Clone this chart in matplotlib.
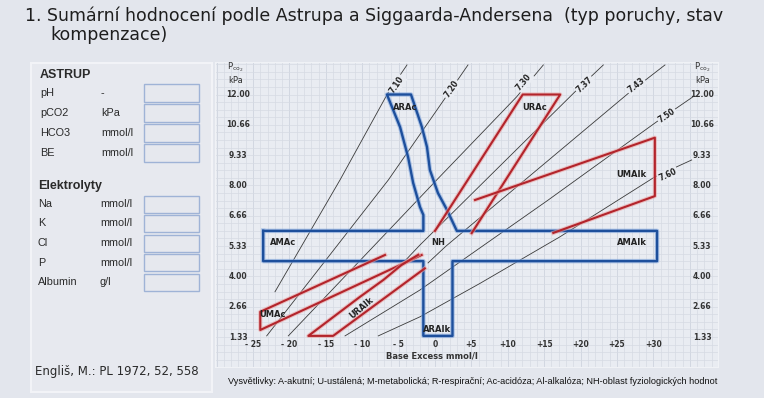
import matplotlib
matplotlib.use("Agg")
from matplotlib import pyplot as plt
from matplotlib import patheffects as pe
import numpy as np

W, H = 764, 398
BG = "#e3e6ed"
PANEL = "#e9ecf2"
GRID = "#d6dae3"
GRID2 = "#c9cfda"
BLUE = "#1d4f9c"
RED = "#b3242b"
INK = "#2a2a2a"

# axis ticks of the nomogram
pco2_ticks = [12.00, 10.66, 9.33, 8.00, 6.66, 5.33, 4.00, 2.66, 1.33]
pco2_labels = ["12.00", "10.66", "9.33", "8.00", "6.66", "5.33", "4.00", "2.66", "1.33"]
be_ticks = [-25, -20, -15, -10, -5, 0, 5, 10, 15, 20, 25, 30]
be_labels = ["- 25", "- 20", "- 15", "- 10", "- 5", "0", "+5", "+10", "+15", "+20", "+25", "+30"]

# iso-pH lines (BE, pCO2)
ph710_be = [-3.85, -6.46, -13.05, -21.98]
ph710_p = [13.30, 12.07, 8.24, 3.32]
ph720_be = [4.53, 1.37, -6.41, -23.12]
ph720_p = [13.30, 11.83, 8.24, 1.38]
ph730_be = [14.88, 11.22, 0.23, -20.15]
ph730_p = [13.30, 11.90, 8.24, 1.38]
ph737_be = [23.12, 19.23, -2.06, -4.40]
ph737_p = [13.30, 12.12, 5.38, 4.59]
ph743_be = [31.59, 26.55, 1.51, -0.96]
ph743_p = [13.30, 12.05, 5.33, 4.59]
ph750_be = [35.44, 30.45, 15.56, -2.06, -12.36]
ph750_p = [11.90, 10.80, 7.36, 3.40, 1.38]
ph760_be = [35.26, 30.22, 17.17, 6.18, -2.06, -7.79]
ph760_p = [9.12, 8.38, 5.74, 3.69, 2.22, 1.38]

ph_names = ["7.10", "7.20", "7.30", "7.37", "7.43", "7.50", "7.60"]
ph_label_be = [-5.22, 2.29, 12.23, 20.5, 27.6, 31.9, 32.0]
ph_label_p = [12.42, 12.23, 12.56, 12.45, 12.40, 11.05, 8.46]

# blue outline: AMAc / NH / AMAlk band with ARAc above and ARAlk below
blue_be = [-23.6, -1.6, -1.6, -2.06, -3.0, -3.7, -4.8, -6.6, -3.3, -1.8, -1.1,
           -0.7, 0.4, 1.65, 3.0, 30.5, 30.5, 2.4, 2.4, -1.6, -1.6, -23.6, -23.6]
blue_p = [6.0, 6.0, 6.70, 7.05, 8.11, 9.25, 10.57, 12.0, 12.0, 10.57, 9.69,
          8.68, 7.67, 6.92, 6.0, 6.0, 4.67, 4.67, 1.38, 1.38, 4.67, 4.67, 6.0]

# red zones
urac_be = [0.0, 12.05, 17.2, 5.04]
urac_p = [6.0, 12.0, 12.0, 5.9]
umalk_be = [5.5, 30.2, 30.2, 16.25]
umalk_p = [7.36, 10.1, 7.53, 5.91]
umac_be = [-6.87, -24.0, -24.0, -1.83]
umac_p = [4.94, 2.44, 1.64, 4.94]
uralk_be = [-1.4, -14.0, -17.4, -10.3, -7.1, -4.6, -2.3]
uralk_p = [4.35, 1.38, 1.38, 3.1, 3.84, 4.5, 4.95]

zone_names = ["ARAc", "URAc", "UMAlk", "AMAc", "NH", "AMAlk", "UMAc", "URAlk", "ARAlk"]
zone_be = [-4.1, 13.7, 27.0, -20.9, 0.4, 27.1, -22.3, -10.1, 0.3]
zone_p = [11.45, 11.45, 8.46, 5.5, 5.5, 5.47, 2.3, 2.59, 1.68]
zone_rot = [0, 0, 0, 0, 0, 0, 0, 40, 0]

astrup_rows = ["pH", "pCO2", "HCO3", "BE"]
astrup_units = ["-", "kPa", "mmol/l", "mmol/l"]
elyte_rows = ["Na", "K", "Cl", "P", "Albumin"]
elyte_units = ["mmol/l", "mmol/l", "mmol/l", "mmol/l", "g/l"]

fig = plt.figure(figsize=(W / 100, H / 100), dpi=100, facecolor=BG)
plt.rcParams["font.family"] = ["DejaVu Sans"]


def fx(px):
    return px / W


def fy(py):
    return 1 - py / H


# title
fig.text(fx(25), fy(16), "1. Sumární hodnocení podle Astrupa a Siggaarda-Andersena  (typ poruchy, stav",
         fontsize=12.5, color="#1e1e1e", va="center", ha="left")
fig.text(fx(50), fy(35), "kompenzace)", fontsize=12.5, color="#1e1e1e", va="center", ha="left")

# left panel
lp = fig.add_axes([fx(31), fy(392), fx(212) - fx(31), fy(63) - fy(392)])
lp.set_xlim(31, 212)
lp.set_ylim(392, 63)
lp.set_facecolor("#e7e9ef")
for s in lp.spines.values():
    s.set_color("#f2f3f7")
    s.set_linewidth(1.5)
lp.set_xticks([])
lp.set_yticks([])

lp.text(40, 75, "ASTRUP", fontsize=9, fontweight="bold", color=INK, va="center",
        family="Liberation Sans")
for i, (r, u) in enumerate(zip(astrup_rows, astrup_units)):
    y = 93 + i * 20
    lp.text(40, y, r, fontsize=7.8, color=INK, va="center", family="Liberation Sans")
    lp.text(101, y, u, fontsize=7.8, color=INK, va="center", family="Liberation Sans")
    lp.add_patch(plt.Rectangle((144, y - 9), 55, 18, facecolor="#e6e8ee",
                               edgecolor="#9fb3d6", lw=1))
lp.text(38, 186, "Elektrolyty", fontsize=9, fontweight="bold", color=INK, va="center",
        family="Liberation Sans")
for i, (r, u) in enumerate(zip(elyte_rows, elyte_units)):
    y = 204 + i * 19.5
    lp.text(38, y, r, fontsize=7.8, color=INK, va="center", family="Liberation Sans")
    lp.text(100, y, u, fontsize=7.8, color=INK, va="center", family="Liberation Sans")
    lp.add_patch(plt.Rectangle((144, y - 8.5), 55, 17, facecolor="#e6e8ee",
                               edgecolor="#9fb3d6", lw=1))
lp.text(35, 372, "Engliš, M.: PL 1972, 52, 558", fontsize=8.5, color=INK, va="center")

# nomogram panel
x0, x1 = (215 - 435) / 7.28, (718 - 435) / 7.28
y0, y1 = 12 - (367 - 94.5) / 22.73, 12 + (94.5 - 62) / 22.73
ax = fig.add_axes([fx(215), fy(367), fx(718) - fx(215), fy(62) - fy(367)])
ax.set_xlim(x0, x1)
ax.set_ylim(y0, y1)
ax.set_facecolor(PANEL)
for s in ax.spines.values():
    s.set_color("#f0f2f6")
ax.set_xticks([])
ax.set_yticks([])

for v in np.arange(-30, 39, 1.0):
    ax.axvline(v, color=GRID2 if v % 5 == 0 else GRID, lw=0.5, zorder=0)
for v in np.arange(0, 13.4, 1.333 / 4):
    ax.axhline(v, color=GRID, lw=0.5, zorder=0)

ph_be = [ph710_be, ph720_be, ph730_be, ph737_be, ph743_be, ph750_be, ph760_be]
ph_p = [ph710_p, ph720_p, ph730_p, ph737_p, ph743_p, ph750_p, ph760_p]
for b, p in zip(ph_be, ph_p):
    ax.plot(b, p, color="#3a3a3a", lw=0.6, zorder=1)
for name, b, p, bb, pp in zip(ph_names, ph_label_be, ph_label_p, ph_be, ph_p):
    ang = np.degrees(np.arctan2((pp[0] - pp[1]) * 22.73, (bb[0] - bb[1]) * 7.28))
    ax.text(b, p, name, fontsize=5.5, fontweight="bold", color="#222222", rotation=ang,
            ha="center", va="center", zorder=3,
            bbox=dict(boxstyle="square,pad=0.15", fc=PANEL, ec="none"))

glow_b = [pe.Stroke(linewidth=3.2, foreground="#7ea4dc", alpha=0.6), pe.Normal()]
glow_r = [pe.Stroke(linewidth=3.0, foreground="#eaa0a0", alpha=0.6), pe.Normal()]
ax.plot(blue_be, blue_p, color=BLUE, lw=1.7, zorder=4, path_effects=glow_b)
for b, p in [(urac_be, urac_p), (umalk_be, umalk_p), (umac_be, umac_p), (uralk_be, uralk_p)]:
    ax.plot(b, p, color=RED, lw=1.5, zorder=5, path_effects=glow_r)

for n, b, p, r in zip(zone_names, zone_be, zone_p, zone_rot):
    ax.text(b, p, n, fontsize=6, fontweight="bold", color="#222222", ha="center",
            va="center", rotation=r, zorder=6)

for t, lab in zip(pco2_ticks, pco2_labels):
    ax.text(-27.06, t, lab, fontsize=5.5, fontweight="bold", color="#333333",
            ha="center", va="center")
    ax.text(36.68, t, lab, fontsize=5.5, fontweight="bold", color="#333333",
            ha="center", va="center")
for t, lab in zip(be_ticks, be_labels):
    ax.text(t, 0.98, lab, fontsize=5.5, fontweight="bold", color="#333333",
            ha="center", va="center")
ax.text(-0.4, 0.50, "Base Excess mmol/l", fontsize=6, fontweight="bold", color="#333333",
        ha="center", va="center")
for xb in [-27.4, 36.7]:
    ax.text(xb, 13.22, "P$_{\\rm co_2}$", fontsize=6.2, color="#333333", ha="center", va="center")
    ax.text(xb, 12.62, "kPa", fontsize=6, color="#333333", ha="center", va="center")

fig.text(fx(228), fy(382), "Vysvětlivky: A-akutní; U-ustálená; M-metabolická; R-respirační; "
         "Ac-acidóza; Al-alkalóza; NH-oblast fyziologických hodnot",
         fontsize=6.6, color="#111111", va="center", ha="left", family="Liberation Sans")

fig.savefig("out.png", dpi=100, facecolor=BG)
